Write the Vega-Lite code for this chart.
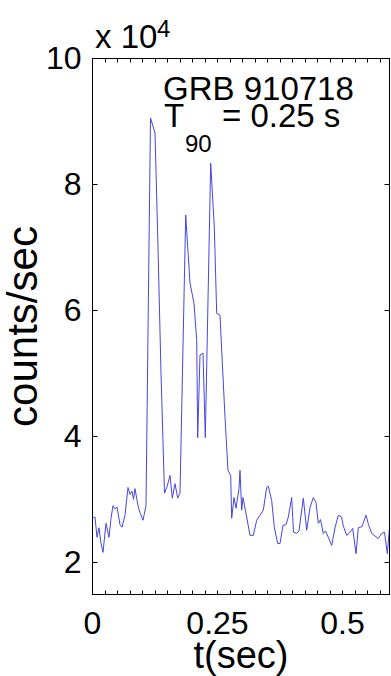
{
  "$schema": "https://vega.github.io/schema/vega-lite/v6.json",
  "width": 297,
  "height": 536,
  "autosize": {"type": "none"},
  "padding": {"left": 92, "top": 58, "right": 2, "bottom": 82},
  "background": "white",
  "config": {
    "view": {"stroke": "black", "strokeWidth": 1},
    "font": "Liberation Sans",
    "axis": {"grid": false, "domainColor": "black", "tickColor": "black", "labelColor": "black", "titleColor": "black", "labelFont": "Liberation Sans", "titleFont": "Liberation Sans", "titleFontWeight": "normal"}
  },
  "datasets": {
    "lc": [
      {"t":0.001,"counts":27000},{"t":0.006,"counts":27200},{"t":0.010,"counts":24000},{"t":0.014,"counts":25500},{"t":0.018,"counts":23000},{"t":0.022,"counts":21600},{"t":0.028,"counts":26200},{"t":0.034,"counts":24000},{"t":0.038,"counts":27000},{"t":0.042,"counts":29000},{"t":0.046,"counts":28500},{"t":0.050,"counts":28800},{"t":0.056,"counts":26000},{"t":0.060,"counts":25600},{"t":0.066,"counts":27500},{"t":0.072,"counts":31900},{"t":0.076,"counts":30800},{"t":0.080,"counts":31300},{"t":0.083,"counts":30000},{"t":0.086,"counts":31700},{"t":0.092,"counts":29000},{"t":0.096,"counts":27900},{"t":0.102,"counts":26700},{"t":0.108,"counts":29000},{"t":0.117,"counts":90500},{"t":0.126,"counts":88100},{"t":0.132,"counts":70000},{"t":0.138,"counts":50000},{"t":0.145,"counts":31000},{"t":0.150,"counts":32000},{"t":0.156,"counts":33800},{"t":0.1606,"counts":30200},{"t":0.166,"counts":32500},{"t":0.1714,"counts":30200},{"t":0.176,"counts":31000},{"t":0.1874,"counts":75100},{"t":0.196,"counts":64300},{"t":0.204,"counts":61100},{"t":0.2094,"counts":55200},{"t":0.2114,"counts":39800},{"t":0.216,"counts":52900},{"t":0.222,"counts":53200},{"t":0.2266,"counts":39800},{"t":0.2374,"counts":83300},{"t":0.2446,"counts":73200},{"t":0.2494,"counts":59500},{"t":0.256,"counts":59200},{"t":0.266,"counts":43000},{"t":0.272,"counts":34600},{"t":0.2774,"counts":33800},{"t":0.2794,"counts":27000},{"t":0.284,"counts":30300},{"t":0.288,"counts":28600},{"t":0.294,"counts":31700},{"t":0.296,"counts":34600},{"t":0.2994,"counts":28300},{"t":0.302,"counts":30300},{"t":0.3094,"counts":27200},{"t":0.316,"counts":24300},{"t":0.3226,"counts":24300},{"t":0.3294,"counts":26700},{"t":0.336,"counts":27500},{"t":0.3426,"counts":28300},{"t":0.3494,"counts":31900},{"t":0.3526,"counts":32100},{"t":0.3594,"counts":29800},{"t":0.3646,"counts":25600},{"t":0.3714,"counts":23000},{"t":0.376,"counts":23000},{"t":0.382,"counts":25900},{"t":0.388,"counts":26000},{"t":0.3926,"counts":27200},{"t":0.3994,"counts":30300},{"t":0.403,"counts":24800},{"t":0.4094,"counts":24600},{"t":0.414,"counts":25000},{"t":0.4226,"counts":30200},{"t":0.4294,"counts":25100},{"t":0.436,"counts":28700},{"t":0.4426,"counts":30300},{"t":0.448,"counts":29500},{"t":0.4526,"counts":26200},{"t":0.457,"counts":26800},{"t":0.4626,"counts":24600},{"t":0.467,"counts":25000},{"t":0.4726,"counts":24000},{"t":0.4794,"counts":22700},{"t":0.486,"counts":25500},{"t":0.4926,"counts":27500},{"t":0.499,"counts":27200},{"t":0.5026,"counts":25800},{"t":0.5094,"counts":24300},{"t":0.515,"counts":24700},{"t":0.5214,"counts":25400},{"t":0.528,"counts":21400},{"t":0.5326,"counts":25500},{"t":0.54,"counts":25700},{"t":0.548,"counts":27500},{"t":0.553,"counts":26000},{"t":0.5594,"counts":24600},{"t":0.566,"counts":24200},{"t":0.5726,"counts":23800},{"t":0.5794,"counts":24600},{"t":0.585,"counts":24800},{"t":0.5906,"counts":21400},{"t":0.595,"counts":25600}
    ],
    "big": [
      {"t":0.142,"counts":93300,"label":"GRB 910718"},
      {"t":0.144,"counts":89050,"label":"T"},
      {"t":0.26,"counts":89050,"label":"= 0.25 s"},
      {"t":0.006,"counts":101590,"label":"x 10"}
    ],
    "small": [
      {"t":0.186,"counts":85080,"label":"90"},
      {"t":0.13,"counts":103330,"label":"4"}
    ]
  },
  "layer": [
    {
      "data": {"name": "lc"},
      "mark": {"type": "line", "color": "#4646e0", "strokeWidth": 1, "clip": true},
      "encoding": {
        "x": {"field": "t", "type": "quantitative",
          "scale": {"domain": [0, 0.594], "nice": false, "zero": false},
          "axis": {"orient": "bottom", "values": [0,0.025,0.05,0.075,0.1,0.125,0.15,0.175,0.2,0.225,0.25,0.275,0.3,0.325,0.35,0.375,0.4,0.425,0.45,0.475,0.5,0.525,0.55,0.575],
            "labelExpr": "datum.value < 0.001 ? '0' : (abs(datum.value-0.25) < 0.001 ? '0.25' : (abs(datum.value-0.5) < 0.001 ? '0.5' : ''))",
            "labelOverlap": false, "labelFlush": false, "tickSize": -4, "labelPadding": 18, "labelFontSize": 32,
            "title": "t(sec)", "titleFontSize": 38, "titlePadding": -2}
        },
        "y": {"field": "counts", "type": "quantitative",
          "scale": {"domain": [15000, 100000], "nice": false, "zero": false},
          "axis": {"orient": "left", "values": [20000,40000,60000,80000,100000],
            "labelExpr": "format(datum.value/10000, 'd')",
            "labelOverlap": false, "labelFlush": false, "tickSize": -5, "labelPadding": 16, "labelFontSize": 32,
            "title": "counts/sec", "titleFontSize": 42, "titlePadding": 0}
        }
      }
    },
    {
      "data": {"name": "big"},
      "mark": {"type": "text", "align": "left", "baseline": "alphabetic", "fontSize": 33, "color": "black", "font": "Liberation Sans"},
      "encoding": {
        "x": {"field": "t", "type": "quantitative", "scale": {"domain": [0, 0.594], "nice": false, "zero": false},
          "axis": {"orient": "top", "values": [0,0.025,0.05,0.075,0.1,0.125,0.15,0.175,0.2,0.225,0.25,0.275,0.3,0.325,0.35,0.375,0.4,0.425,0.45,0.475,0.5,0.525,0.55,0.575], "labels": false, "tickSize": -4, "title": null}},
        "y": {"field": "counts", "type": "quantitative", "scale": {"domain": [15000, 100000], "nice": false, "zero": false},
          "axis": {"orient": "right", "values": [20000,40000,60000,80000,100000], "labels": false, "tickSize": -5, "title": null}},
        "text": {"field": "label"}
      }
    },
    {
      "data": {"name": "small"},
      "mark": {"type": "text", "align": "left", "baseline": "alphabetic", "fontSize": 24, "color": "black", "font": "Liberation Sans"},
      "encoding": {
        "x": {"field": "t", "type": "quantitative", "scale": {"domain": [0, 0.594], "nice": false, "zero": false}, "axis": null},
        "y": {"field": "counts", "type": "quantitative", "scale": {"domain": [15000, 100000], "nice": false, "zero": false}, "axis": null},
        "text": {"field": "label"}
      }
    }
  ],
  "resolve": {"axis": {"x": "independent", "y": "independent"}}
}
